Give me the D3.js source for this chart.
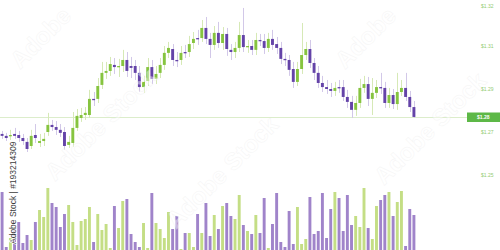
<!DOCTYPE html>
<html>
<head>
<meta charset="utf-8">
<script src="https://cdn.jsdelivr.net/npm/d3@7"></script>
<style>
  body { margin: 0; background: #fff; }
  svg { display: block; font-family: 'Liberation Sans', Arial, sans-serif; }
</style>
</head>
<body>
<div id="chart"></div>
<script>
// OHLC per session (USD)
var open = [1.2691, 1.2682, 1.2682, 1.2691, 1.2686, 1.2672, 1.2654, 1.2635, 1.2686, 1.2649,
            1.2658, 1.2700, 1.2733, 1.2723, 1.2710, 1.2700, 1.2640, 1.2649, 1.2719, 1.2765,
            1.2779, 1.2779, 1.2854, 1.2854, 1.2919, 1.2975, 1.2984, 1.3012, 1.3002, 1.3007,
            1.3035, 1.3007, 1.3007, 1.2975, 1.2909, 1.2937, 1.3002, 1.2947, 1.2975, 1.3012,
            1.3068, 1.3086, 1.3035, 1.3035, 1.3072, 1.3072, 1.3114, 1.3137, 1.3137, 1.3184,
            1.3133, 1.3105, 1.3161, 1.3114, 1.3156, 1.3082, 1.3072, 1.3091, 1.3151, 1.3095,
            1.3100, 1.3082, 1.3128, 1.3123, 1.3091, 1.3133, 1.3109, 1.3091, 1.3040, 1.3035,
            1.2993, 1.2933, 1.2993, 1.3058, 1.3086, 1.3021, 1.2975, 1.2928, 1.2909, 1.2900,
            1.2891, 1.2909, 1.2909, 1.2863, 1.2840, 1.2803, 1.2835, 1.2905, 1.2923, 1.2854,
            1.2882, 1.2909, 1.2905, 1.2835, 1.2872, 1.2830, 1.2886, 1.2905, 1.2863, 1.2816];
var high = [1.2705, 1.2696, 1.2710, 1.2719, 1.2705, 1.2691, 1.2672, 1.2710, 1.2737, 1.2691,
            1.2696, 1.2789, 1.2756, 1.2751, 1.2737, 1.2723, 1.2682, 1.2793, 1.2807, 1.2812,
            1.2816, 1.2896, 1.2886, 1.2951, 1.3026, 1.3026, 1.3049, 1.3044, 1.3040, 1.3082,
            1.3072, 1.3049, 1.3035, 1.3007, 1.2961, 1.3044, 1.3035, 1.3007, 1.3044, 1.3100,
            1.3119, 1.3109, 1.3072, 1.3100, 1.3105, 1.3147, 1.3165, 1.3175, 1.3221, 1.3235,
            1.3161, 1.3193, 1.3212, 1.3188, 1.3184, 1.3109, 1.3119, 1.3212, 1.3277, 1.3128,
            1.3128, 1.3161, 1.3156, 1.3156, 1.3161, 1.3175, 1.3142, 1.3119, 1.3068, 1.3058,
            1.3026, 1.3026, 1.3207, 1.3119, 1.3128, 1.3044, 1.3007, 1.2961, 1.2942, 1.2928,
            1.2933, 1.2942, 1.2942, 1.2896, 1.2868, 1.2868, 1.2947, 1.2961, 1.2956, 1.2951,
            1.2942, 1.2975, 1.2933, 1.2905, 1.2900, 1.2975, 1.2942, 1.2975, 1.2891, 1.2844];
var low = [1.2668, 1.2658, 1.2663, 1.2668, 1.2654, 1.2640, 1.2607, 1.2621, 1.2649, 1.2630,
           1.2635, 1.2682, 1.2705, 1.2686, 1.2677, 1.2617, 1.2626, 1.2630, 1.2705, 1.2747,
           1.2756, 1.2765, 1.2821, 1.2835, 1.2900, 1.2947, 1.2961, 1.2970, 1.2956, 1.2979,
           1.2956, 1.2951, 1.2942, 1.2886, 1.2882, 1.2914, 1.2923, 1.2923, 1.2951, 1.2989,
           1.3044, 1.3007, 1.3002, 1.3012, 1.3044, 1.3049, 1.3086, 1.3105, 1.3119, 1.3109,
           1.3044, 1.3082, 1.3091, 1.3082, 1.3054, 1.3035, 1.3044, 1.3072, 1.3072, 1.3068,
           1.3058, 1.3058, 1.3100, 1.3063, 1.3072, 1.3082, 1.3063, 1.3016, 1.3007, 1.2961,
           1.2905, 1.2914, 1.2970, 1.3035, 1.2998, 1.2942, 1.2905, 1.2886, 1.2877, 1.2863,
           1.2868, 1.2882, 1.2844, 1.2812, 1.2765, 1.2775, 1.2812, 1.2882, 1.2821, 1.2779,
           1.2858, 1.2877, 1.2812, 1.2812, 1.2807, 1.2803, 1.2868, 1.2844, 1.2793, 1.2765];
var close = [1.2682, 1.2672, 1.2686, 1.2682, 1.2672, 1.2658, 1.2621, 1.2682, 1.2672, 1.2658,
             1.2668, 1.2733, 1.2723, 1.2710, 1.2696, 1.2635, 1.2654, 1.2719, 1.2775, 1.2779,
             1.2789, 1.2854, 1.2849, 1.2914, 1.2975, 1.2984, 1.3016, 1.3002, 1.3007, 1.3035,
             1.2984, 1.2998, 1.2975, 1.2909, 1.2933, 1.3002, 1.2947, 1.2970, 1.3012, 1.3068,
             1.3091, 1.3035, 1.3030, 1.3068, 1.3068, 1.3109, 1.3133, 1.3133, 1.3184, 1.3133,
             1.3105, 1.3161, 1.3114, 1.3156, 1.3086, 1.3072, 1.3091, 1.3151, 1.3095, 1.3100,
             1.3082, 1.3128, 1.3123, 1.3091, 1.3133, 1.3105, 1.3091, 1.3040, 1.3035, 1.2989,
             1.2933, 1.2993, 1.3058, 1.3086, 1.3021, 1.2975, 1.2928, 1.2909, 1.2900, 1.2891,
             1.2905, 1.2905, 1.2863, 1.2840, 1.2803, 1.2835, 1.2905, 1.2923, 1.2854, 1.2882,
             1.2909, 1.2905, 1.2835, 1.2872, 1.2830, 1.2886, 1.2905, 1.2863, 1.2816, 1.2770];
// traded volume (thousands)
var volume = [58, 3, 12, 22, 28, 7, 15, 10, 28, 40,
              33, 62, 47, 43, 23, 36, 45, 28, 5, 29,
              31, 43, 8, 36, 20, 26, 2, 44, 22, 49,
              51, 16, 8, 3, 27, 2, 57, 27, 21, 12,
              38, 21, 34, 1, 17, 17, 3, 36, 17, 47,
              14, 35, 21, 44, 47, 34, 31, 55, 25, 19,
              16, 35, 17, 52, 2, 26, 57, 8, 3, 39,
              6, 43, 6, 11, 53, 16, 19, 57, 12, 41,
              58, 52, 19, 55, 25, 34, 23, 62, 22, 11,
              44, 50, 55, 58, 34, 48, 59, 4, 41, 35];

var tickValues = [1.33, 1.31, 1.29, 1.27, 1.25];
var tickLabels = ['$1.32', '$1.31', '$1.29', '$1.27', '$1.25'];
var lastLabel = '$1.28';
var stockId = 'Adobe Stock | #193214309';

var W = 500, H = 250;
var up_body = '#86c43f', down_body = '#6443a8';
var up_wick = '#d6e9b6', down_wick = '#d2c8e8';
var up_vol = '#c4de85', down_vol = '#a084ca';

var svg = d3.select('#chart')
  .append('svg')
  .attr('width', W)
  .attr('height', H);

var x = d3.scaleBand()
  .domain(d3.range(open.length))
  .range([0, 416])
  .paddingInner(0.3)
  .paddingOuter(0.15);
var y = d3.scaleLinear().domain([1.25, 1.33]).range([175, 3]);
var yVol = d3.scaleLinear().domain([0, 100]).range([H, 150]);

function isUp(i) { return close[i] >= open[i]; }
var idx = d3.range(open.length);

// volume
svg.append('g')
  .selectAll('rect')
  .data(idx)
  .join('rect')
  .attr('x', i => x(i))
  .attr('y', i => yVol(volume[i]))
  .attr('width', x.bandwidth())
  .attr('height', i => H - yVol(volume[i]))
  .attr('fill', i => isUp(i) ? up_vol : down_vol);

// last price line
var lastY = Math.round(y(close[close.length - 1])) + 0.5;
svg.append('line')
  .attr('x1', 0).attr('x2', 467)
  .attr('y1', lastY).attr('y2', lastY)
  .attr('stroke', '#dcedcb')
  .attr('stroke-width', 1);

// wicks
svg.append('g')
  .selectAll('line')
  .data(idx)
  .join('line')
  .attr('x1', i => Math.round(x(i) + x.bandwidth() / 2) + 0.5)
  .attr('x2', i => Math.round(x(i) + x.bandwidth() / 2) + 0.5)
  .attr('y1', i => y(high[i]))
  .attr('y2', i => y(low[i]))
  .attr('stroke', i => isUp(i) ? up_wick : down_wick)
  .attr('stroke-width', 1);

// bodies
svg.append('g')
  .selectAll('rect')
  .data(idx)
  .join('rect')
  .attr('x', i => x(i))
  .attr('y', i => y(Math.max(open[i], close[i])))
  .attr('width', x.bandwidth())
  .attr('height', i => Math.max(1.3, Math.abs(y(open[i]) - y(close[i]))))
  .attr('fill', i => isUp(i) ? up_body : down_body);

// right price axis
var axis = svg.append('g')
  .attr('transform', 'translate(481,0)')
  .call(d3.axisRight(y)
    .tickValues(tickValues)
    .tickFormat((d, i) => tickLabels[i])
    .tickSize(0)
    .tickPadding(0));
axis.select('.domain').remove();
axis.selectAll('text')
  .attr('fill', '#93cc72')
  .style('font-size', '5px');
axis.select('.tick text').attr('dy', '0.9em');

// last price tag
svg.append('rect')
  .attr('x', 467).attr('y', lastY - 5)
  .attr('width', 40).attr('height', 9.5)
  .attr('fill', '#5db847');
svg.append('text')
  .attr('x', 477).attr('y', lastY)
  .attr('dy', '0.35em')
  .attr('fill', '#fff')
  .style('font-size', '5px')
  .style('font-weight', 'bold')
  .text(lastLabel);

// diagonal watermark, faint
var marks = [['Adobe', 20, 70], ['Adobe Stock', 55, 182], ['Adobe Stock', 176, 230],
             ['Adobe', 345, 70], ['Adobe Stock', 384, 186]];
svg.append('g')
  .selectAll('text')
  .data(marks)
  .join('text')
  .attr('transform', d => 'translate(' + d[1] + ',' + d[2] + ') rotate(-45)')
  .attr('fill', '#fff')
  .attr('fill-opacity', 0.45)
  .attr('stroke', '#d8d8d8')
  .attr('stroke-opacity', 0.2)
  .attr('stroke-width', 0.8)
  .style('font-size', '24px')
  .style('font-weight', 'bold')
  .text(d => d[0]);

// stock id, vertical
svg.append('text')
  .attr('transform', 'translate(16,244) rotate(-90)')
  .attr('fill', '#3d3d3d')
  .attr('stroke', '#fff')
  .attr('stroke-width', 1.5)
  .attr('paint-order', 'stroke')
  .style('font-size', '8.5px')
  .text(stockId);
</script>
</body>
</html>
